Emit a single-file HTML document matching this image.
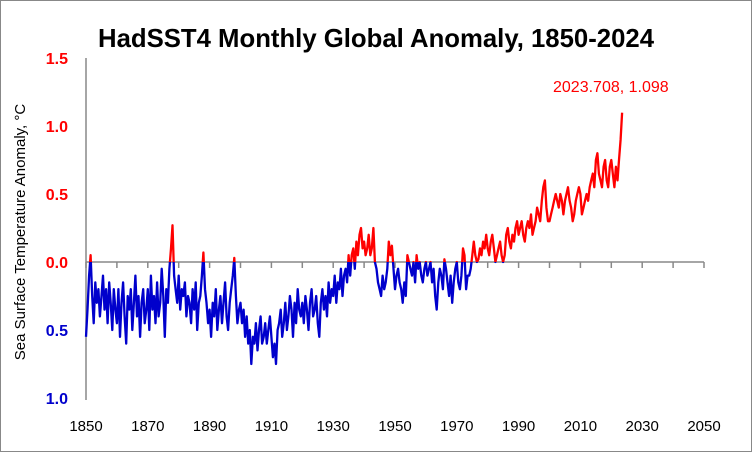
<!DOCTYPE html>
<html><head><meta charset="utf-8"><style>
body{margin:0;background:#fff}
svg{display:block;font-family:"Liberation Sans",sans-serif}
</style></head><body>
<svg id="chart" width="752" height="452" viewBox="0 0 752 452">
<rect x="0.5" y="0.5" width="751" height="451" fill="#fff" stroke="#888"/>
<text x="376" y="47" text-anchor="middle" font-size="26" font-weight="bold" textLength="556" lengthAdjust="spacingAndGlyphs">HadSST4 Monthly Global Anomaly, 1850-2024</text>
<text transform="translate(25,232) rotate(-90)" text-anchor="middle" font-size="15">Sea Surface Temperature Anomaly, °C</text>
<g id="axes"></g>
<g id="series"></g>
<text x="553" y="92" font-size="16" fill="#f00">2023.708, 1.098</text>
</svg>
<script>
const startYear = 1850;
const stepYears = 0.5;
const anomalies = [
-0.55,-0.35,-0.1,0.05,-0.25,-0.45,-0.15,-0.3,-0.2,-0.4,-0.25,-0.1,-0.35,-0.2,-0.45,-0.15,-0.3,-0.5,-0.2,-0.35,
-0.45,-0.2,-0.55,-0.3,-0.15,-0.4,-0.6,-0.25,-0.35,-0.2,-0.5,-0.3,-0.1,-0.4,-0.25,-0.55,-0.3,-0.2,-0.45,-0.35,
-0.2,-0.5,-0.1,-0.35,-0.25,-0.45,-0.15,-0.4,-0.3,-0.05,-0.25,-0.55,-0.2,-0.3,-0.05,0.1,0.27,-0.1,-0.2,-0.3,
-0.1,-0.35,-0.2,-0.25,-0.15,-0.4,-0.25,-0.3,-0.45,-0.2,-0.35,-0.15,-0.5,-0.3,-0.25,-0.1,0.07,-0.2,-0.3,-0.45,
-0.35,-0.55,-0.3,-0.4,-0.2,-0.5,-0.35,-0.25,-0.45,-0.3,-0.15,-0.4,-0.5,-0.3,-0.2,-0.1,0.03,-0.25,-0.45,-0.35,
-0.3,-0.45,-0.35,-0.55,-0.4,-0.6,-0.5,-0.75,-0.55,-0.6,-0.45,-0.65,-0.5,-0.4,-0.6,-0.55,-0.45,-0.6,-0.5,-0.4,
-0.55,-0.7,-0.6,-0.75,-0.5,-0.45,-0.35,-0.55,-0.45,-0.3,-0.5,-0.4,-0.25,-0.35,-0.55,-0.3,-0.45,-0.2,-0.35,-0.4,
-0.3,-0.45,-0.25,-0.35,-0.5,-0.3,-0.2,-0.4,-0.35,-0.25,-0.45,-0.55,-0.3,-0.2,-0.35,-0.25,-0.4,-0.15,-0.3,-0.2,
-0.25,-0.1,-0.3,-0.15,-0.2,-0.05,-0.25,-0.1,-0.05,-0.15,0.05,-0.1,0.05,0.1,-0.05,0.15,0.05,0.2,0.25,0.1,
0.15,0.05,0.1,0.2,0.05,0.1,0.25,0.0,-0.05,-0.15,-0.2,-0.25,-0.1,-0.2,-0.15,-0.05,0.15,0.05,0.12,-0.05,
-0.2,-0.1,-0.05,-0.15,-0.2,-0.3,-0.15,-0.25,0.05,0.0,-0.05,-0.1,0.0,-0.15,0.05,-0.05,0.0,-0.1,-0.15,-0.05,
0.0,-0.1,-0.05,0.0,-0.15,-0.05,-0.25,-0.35,-0.15,-0.05,-0.1,-0.2,0.02,-0.05,-0.15,-0.25,-0.1,-0.3,-0.15,-0.05,
0.0,-0.15,-0.2,-0.1,0.1,0.05,-0.2,-0.1,-0.1,-0.05,0.05,0.15,0.05,0.0,0.02,0.1,0.05,0.15,0.1,0.2,
0.1,0.05,0.15,0.2,0.1,0.0,0.05,0.1,0.15,0.05,0.0,0.05,0.2,0.25,0.15,0.1,0.2,0.15,0.25,0.3,
0.2,0.25,0.3,0.2,0.15,0.25,0.3,0.25,0.35,0.2,0.25,0.3,0.4,0.35,0.3,0.45,0.55,0.6,0.4,0.3,
0.3,0.35,0.4,0.45,0.5,0.45,0.4,0.5,0.45,0.35,0.45,0.5,0.55,0.45,0.4,0.3,0.35,0.45,0.5,0.55,
0.5,0.35,0.4,0.45,0.5,0.45,0.55,0.6,0.65,0.55,0.75,0.8,0.65,0.6,0.55,0.7,0.75,0.6,0.55,0.7,
0.75,0.65,0.55,0.7,0.6,0.75,0.9,1.098
];
const xTicks = [1850,1870,1890,1910,1930,1950,1970,1990,2010,2030,2050];
const xMinorTicks = [1850,1860,1870,1880,1890,1900,1910,1920,1930,1940,1950,1960,1970,1980,1990,2000,2010,2020,2030,2040,2050];
const yTicks = [1.5,1.0,0.5,0.0,-0.5,-1.0];
const yTickLabels = ["1.5","1.0","0.5","0.0","0.5","1.0"];

const X0=86,X1=704,Y0=262,PX=136;
const sx = yr => X0 + (yr-1850)*(X1-X0)/200;
const sy = v => Y0 - v*PX;
const NS="http://www.w3.org/2000/svg";
const axes=document.getElementById('axes'), series=document.getElementById('series');
function mk(tag,attrs,parent){const e=document.createElementNS(NS,tag);for(const k in attrs)e.setAttribute(k,attrs[k]);parent.appendChild(e);return e;}

let e=mk('line',{x1:X0,y1:sy(1.5),x2:X0,y2:sy(-1.0)+2,stroke:'#888','stroke-width':1.5},axes);


e=mk('line',{x1:X0,y1:Y0,x2:X1,y2:Y0,stroke:'#888','stroke-width':1.5},axes);


xMinorTicks.forEach(t=>{
  const l=mk('line',{x1:sx(t),y1:Y0,x2:sx(t),y2:Y0+6,stroke:'#888','stroke-width':1.5},axes);
  
  
});
xTicks.forEach(t=>{
  const tx=mk('text',{x:sx(t),y:431,'text-anchor':'middle','font-size':15},axes);
  tx.textContent=t;
  
  
});
yTicks.forEach((t,i)=>{
  const tx=mk('text',{x:68,y:sy(t)+6,'text-anchor':'end','font-size':16,'font-weight':'bold',fill:t>=0?'#f00':'#00c'},axes);
  tx.textContent=yTickLabels[i];
  
  
});

const defs=mk('defs',{},series);
const ca=mk('clipPath',{id:'above'},defs);mk('rect',{x:0,y:0,width:752,height:Y0},ca);
const cb=mk('clipPath',{id:'below'},defs);mk('rect',{x:0,y:Y0,width:752,height:452-Y0},cb);
const pts=anomalies.map((v,i)=>sx(startYear+i*stepYears).toFixed(1)+','+sy(v).toFixed(1)).join(' ');
const red=mk('polyline',{points:pts,fill:'none',stroke:'#f00','stroke-width':2.3,'stroke-linejoin':'round','clip-path':'url(#above)'},series);


const blue=mk('polyline',{points:pts,fill:'none',stroke:'#00c','stroke-width':2.3,'stroke-linejoin':'round','clip-path':'url(#below)'},series);


</script>
</body></html>
